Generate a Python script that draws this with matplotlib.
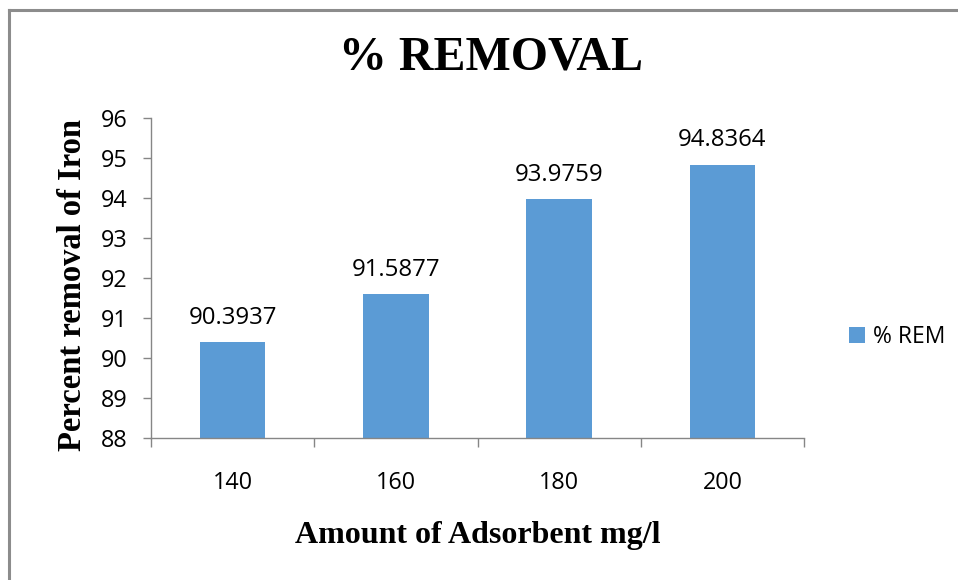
import numpy as np
import matplotlib
matplotlib.use("Agg")
import matplotlib.pyplot as plt
from matplotlib.lines import Line2D

# data
doses = ["140", "160", "180", "200"]
removal = [90.3937, 91.5877, 93.9759, 94.8364]
y_ticks = [88, 89, 90, 91, 92, 93, 94, 95, 96]

bar_color = "#5B9BD5"
axis_gray = "#868686"
sans = "Open Sans"
serif = "Liberation Serif"

fig = plt.figure(figsize=(9.58, 5.8), dpi=100)
ax = fig.add_axes([151/958, 1-438/580, (804-151)/958, (438-118)/580])

x = np.arange(len(doses))
bars = ax.bar(x, removal, width=0.4, color=bar_color, label="% REM", zorder=2)

ax.set_ylim(88, 96)
ax.set_xlim(-0.5, len(doses)-0.5)
ax.set_yticks(y_ticks)
ax.set_yticklabels([str(v) for v in y_ticks], fontfamily=sans, fontsize=16.8)

# ticks between categories, labels at the centres
ax.set_xticks(np.arange(-0.5, len(doses), 1.0))
ax.set_xticklabels([])
ax.set_xticks(x, minor=True)
ax.set_xticklabels(doses, minor=True, fontfamily=sans, fontsize=16.8)
ax.tick_params(axis="x", which="major", direction="out", length=6.5, width=1, color=axis_gray)
ax.tick_params(axis="x", which="minor", length=0, pad=24)
ax.tick_params(axis="y", direction="out", length=5.8, width=1, color=axis_gray, pad=11)

for s in ["top", "right"]:
    ax.spines[s].set_visible(False)
for s in ["left", "bottom"]:
    ax.spines[s].set_color(axis_gray)
    ax.spines[s].set_linewidth(1)

for xi, v in zip(x, removal):
    ax.annotate(f"{v:.4f}", (xi, v), xytext=(0, 13), textcoords="offset points",
                ha="center", va="baseline", fontfamily=sans, fontsize=17.3)

fig.text(491/958, 1-58/580, "% REMOVAL", ha="center", va="center",
         fontfamily=serif, fontweight="bold", fontsize=34.5)
fig.text(478/958, 1-536/580, "Amount of Adsorbent mg/l", ha="center", va="center",
         fontfamily=serif, fontweight="bold", fontsize=23)
fig.text(73/958, 1-285/580, "Percent removal of Iron", ha="center", va="center",
         rotation=90, fontfamily=serif, fontweight="bold", fontsize=23.5)

leg = fig.legend(handles=[bars], loc="center left", bbox_to_anchor=(828/958, 1-337/580),
                 frameon=False, prop={"family": sans, "size": 16.5},
                 handlelength=0.7, handleheight=0.7, handletextpad=0.35)

# outer chart border (only left and top fall inside the picture)
fig.add_artist(Line2D([9/958, 9/958], [0, 1-10/580], color="#8c8c8c", lw=2.2))
fig.add_artist(Line2D([9/958, 1], [1-10/580, 1-10/580], color="#8c8c8c", lw=2.2))

fig.savefig("out.png", dpi=100)
